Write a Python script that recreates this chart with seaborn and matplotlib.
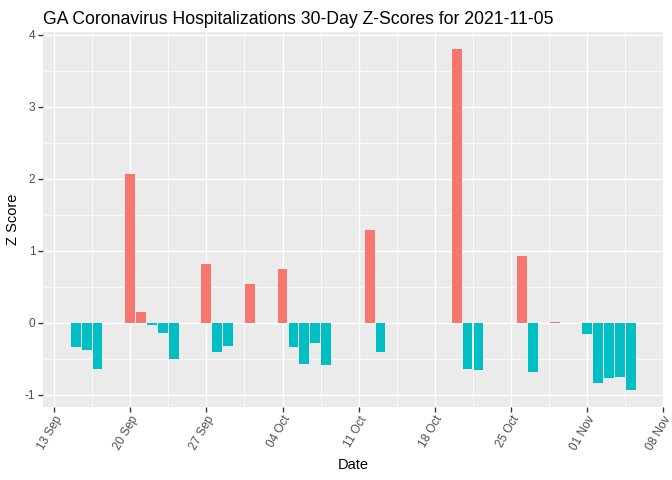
import numpy as np
import pandas as pd
import matplotlib
matplotlib.use("Agg")
from matplotlib import pyplot as plt
import matplotlib.dates as mdates
import seaborn as sns

dates = ["2021-09-15", "2021-09-16", "2021-09-17", "2021-09-20", "2021-09-21",
         "2021-09-22", "2021-09-23", "2021-09-24", "2021-09-27", "2021-09-28",
         "2021-09-29", "2021-10-01", "2021-10-04", "2021-10-05", "2021-10-06",
         "2021-10-07", "2021-10-08", "2021-10-12", "2021-10-13", "2021-10-20",
         "2021-10-21", "2021-10-22", "2021-10-26", "2021-10-27", "2021-10-29",
         "2021-11-01", "2021-11-02", "2021-11-03", "2021-11-04", "2021-11-05"]
zscores = [-0.34, -0.38, -0.64, 2.07, 0.15,
           -0.04, -0.14, -0.50, 0.82, -0.41,
           -0.32, 0.54, 0.75, -0.34, -0.57,
           -0.29, -0.59, 1.29, -0.41, 3.80,
           -0.65, -0.66, 0.93, -0.69, 0.015,
           -0.16, -0.84, -0.77, -0.76, -0.93]
tick_dates = pd.date_range("2021-09-13", "2021-11-08", freq="7D")

df = pd.DataFrame({"Date": pd.to_datetime(dates), "z": zscores})
df["num"] = mdates.date2num(df["Date"])
df["pos"] = np.where(df["z"] > 0, "pos", "neg")

sns.set_theme(style="darkgrid", rc={
    "axes.facecolor": "#EBEBEB", "grid.color": "white",
    "axes.edgecolor": "#EBEBEB", "xtick.bottom": True, "ytick.left": True,
    "xtick.color": "#333333", "ytick.color": "#333333",
    "xtick.major.size": 3.5, "ytick.major.size": 3.5,
    "xtick.major.width": 1.0, "ytick.major.width": 1.0,
})
plt.rcParams["font.family"] = ["Liberation Sans", "DejaVu Sans"]

fig, ax = plt.subplots(figsize=(7, 5), dpi=96)
fig.subplots_adjust(left=0.0635, right=0.988, top=0.933, bottom=0.153)

sns.barplot(data=df, x="num", y="z", hue="pos",
            palette={"pos": "#F8766D", "neg": "#00BFC4"},
            native_scale=True, width=0.9, dodge=False, saturation=1,
            errorbar=None, legend=False, linewidth=0, edgecolor="none", ax=ax)

tnum = mdates.date2num(tick_dates)
ax.set_xticks(tnum)
ax.set_xticklabels([d.strftime("%d %b") for d in tick_dates], rotation=60,
                   ha="right", rotation_mode="anchor", fontsize=8.8, color="#4D4D4D")
ax.set_xticks((tnum[:-1] + tnum[1:]) / 2, minor=True)
ax.set_yticks(range(-1, 5))
ax.set_yticklabels([str(v) for v in range(-1, 5)], fontsize=8.8, color="#4D4D4D")
ax.set_yticks(np.arange(-0.5, 4, 1.0), minor=True)
ax.grid(which="major", color="white", linewidth=1.1)
ax.grid(which="minor", color="white", linewidth=0.55)
ax.tick_params(which="minor", length=0)
ax.tick_params(axis="both", which="major", pad=2)

lo = df["num"].min() - 0.45
hi = df["num"].max() + 0.45
ax.set_xlim(lo - 0.05 * (hi - lo), hi + 0.05 * (hi - lo))
ymin, ymax = df["z"].min(), df["z"].max()
ax.set_ylim(ymin - 0.05 * (ymax - ymin), ymax + 0.05 * (ymax - ymin))

ax.set_xlabel("Date", fontsize=11, color="black")
ax.set_ylabel("Z Score", fontsize=11, color="black")
ax.set_title("GA Coronavirus Hospitalizations 30-Day Z-Scores for 2021-11-05",
             fontsize=13.2, loc="left", x=0.0, color="black")
for s in ax.spines.values():
    s.set_visible(False)

fig.savefig("out.png", dpi=96)
